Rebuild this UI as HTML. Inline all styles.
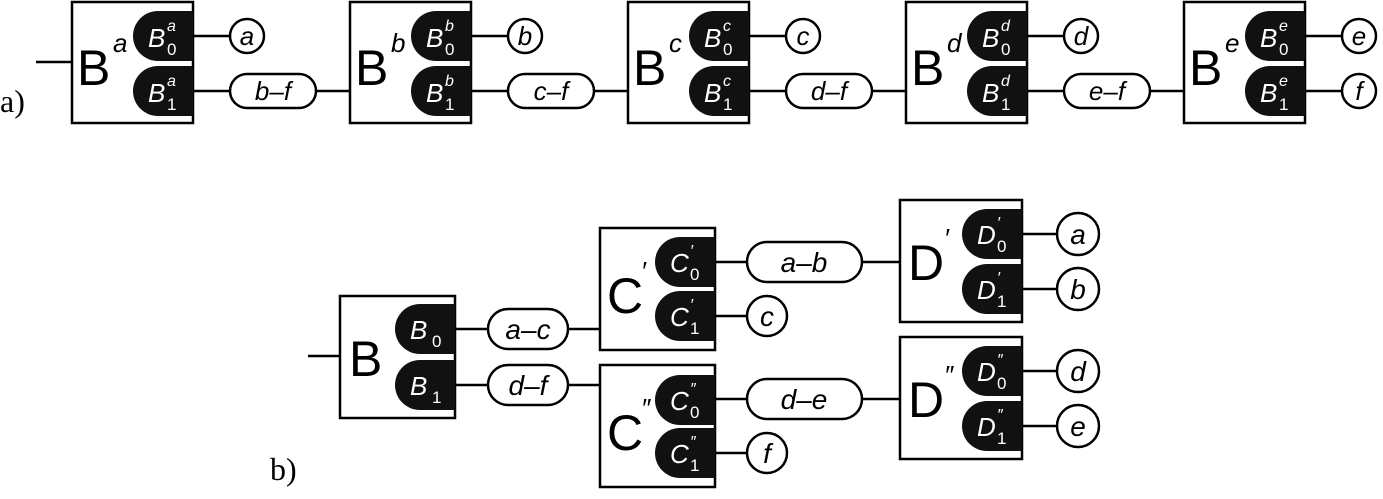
<!DOCTYPE html>
<html><head><meta charset="utf-8"><style>
html,body{margin:0;padding:0;background:#fff;width:1383px;height:499px;overflow:hidden}
svg{display:block}
text{font-family:"Liberation Sans",sans-serif}
.big{font-size:50px}
.sup{font-size:26px;font-style:italic}
.pl{fill:#fff;font-style:italic;font-size:26px}
.ps{fill:#fff;font-size:17px}
.pi{fill:#fff;font-size:16px;font-style:italic}
.c{font-style:italic;font-size:26px;text-anchor:middle}
.lab{font-family:"Liberation Serif",serif;font-size:32px}
</style></head><body>
<svg width="1383" height="499" viewBox="0 0 1383 499" xmlns="http://www.w3.org/2000/svg" stroke-linecap="butt">
<defs>
<path id="pill" d="M0,0 H-35 A25,25 0 0 0 -35,50 H0 Z" fill="#111"/>
</defs>
<g stroke="#000" stroke-width="2.5" fill="#fff">
<!-- row a lines -->
<line x1="36" y1="62" x2="72" y2="62"/>
</g>

<!-- ROW A -->
<g id="rowa">
<!-- block template repeated -->
<g transform="translate(193,2)">
 <rect x="-121" y="0" width="121" height="121" fill="#fff" stroke="#000" stroke-width="2.5"/>
 <use href="#pill" y="9"/><use href="#pill" y="64"/>
 <text class="big" x="-116" y="83">B</text><text class="sup" x="-80" y="50">a</text>
 <text class="pl" x="-45" y="45">B</text><text class="pi" x="-26" y="29">a</text><text class="ps" x="-26" y="53">0</text>
 <text class="pl" x="-45" y="100">B</text><text class="pi" x="-26" y="84">a</text><text class="ps" x="-26" y="108">1</text>
 <g stroke="#000" stroke-width="2.5" fill="#fff">
  <line x1="0" y1="34" x2="37" y2="34"/><circle cx="54" cy="34" r="17"/>
  <line x1="0" y1="89" x2="37" y2="89"/><rect x="37" y="72" width="86" height="34" rx="17"/>
  <line x1="123" y1="89" x2="157" y2="89"/>
 </g>
 <text class="c" x="54" y="43">a</text><text class="c" x="80" y="98">b–f</text>
</g>
<g transform="translate(471,2)">
 <rect x="-121" y="0" width="121" height="121" fill="#fff" stroke="#000" stroke-width="2.5"/>
 <use href="#pill" y="9"/><use href="#pill" y="64"/>
 <text class="big" x="-116" y="83">B</text><text class="sup" x="-80" y="50">b</text>
 <text class="pl" x="-45" y="45">B</text><text class="pi" x="-26" y="29">b</text><text class="ps" x="-26" y="53">0</text>
 <text class="pl" x="-45" y="100">B</text><text class="pi" x="-26" y="84">b</text><text class="ps" x="-26" y="108">1</text>
 <g stroke="#000" stroke-width="2.5" fill="#fff">
  <line x1="0" y1="34" x2="37" y2="34"/><circle cx="54" cy="34" r="17"/>
  <line x1="0" y1="89" x2="37" y2="89"/><rect x="37" y="72" width="86" height="34" rx="17"/>
  <line x1="123" y1="89" x2="157" y2="89"/>
 </g>
 <text class="c" x="54" y="43">b</text><text class="c" x="80" y="98">c–f</text>
</g>
<g transform="translate(749,2)">
 <rect x="-121" y="0" width="121" height="121" fill="#fff" stroke="#000" stroke-width="2.5"/>
 <use href="#pill" y="9"/><use href="#pill" y="64"/>
 <text class="big" x="-116" y="83">B</text><text class="sup" x="-80" y="50">c</text>
 <text class="pl" x="-45" y="45">B</text><text class="pi" x="-26" y="29">c</text><text class="ps" x="-26" y="53">0</text>
 <text class="pl" x="-45" y="100">B</text><text class="pi" x="-26" y="84">c</text><text class="ps" x="-26" y="108">1</text>
 <g stroke="#000" stroke-width="2.5" fill="#fff">
  <line x1="0" y1="34" x2="37" y2="34"/><circle cx="54" cy="34" r="17"/>
  <line x1="0" y1="89" x2="37" y2="89"/><rect x="37" y="72" width="86" height="34" rx="17"/>
  <line x1="123" y1="89" x2="157" y2="89"/>
 </g>
 <text class="c" x="54" y="43">c</text><text class="c" x="80" y="98">d–f</text>
</g>
<g transform="translate(1027,2)">
 <rect x="-121" y="0" width="121" height="121" fill="#fff" stroke="#000" stroke-width="2.5"/>
 <use href="#pill" y="9"/><use href="#pill" y="64"/>
 <text class="big" x="-116" y="83">B</text><text class="sup" x="-80" y="50">d</text>
 <text class="pl" x="-45" y="45">B</text><text class="pi" x="-26" y="29">d</text><text class="ps" x="-26" y="53">0</text>
 <text class="pl" x="-45" y="100">B</text><text class="pi" x="-26" y="84">d</text><text class="ps" x="-26" y="108">1</text>
 <g stroke="#000" stroke-width="2.5" fill="#fff">
  <line x1="0" y1="34" x2="37" y2="34"/><circle cx="54" cy="34" r="17"/>
  <line x1="0" y1="89" x2="37" y2="89"/><rect x="37" y="72" width="86" height="34" rx="17"/>
  <line x1="123" y1="89" x2="157" y2="89"/>
 </g>
 <text class="c" x="54" y="43">d</text><text class="c" x="80" y="98">e–f</text>
</g>
<g transform="translate(1305,2)">
 <rect x="-121" y="0" width="121" height="121" fill="#fff" stroke="#000" stroke-width="2.5"/>
 <use href="#pill" y="9"/><use href="#pill" y="64"/>
 <text class="big" x="-116" y="83">B</text><text class="sup" x="-80" y="50">e</text>
 <text class="pl" x="-45" y="45">B</text><text class="pi" x="-26" y="29">e</text><text class="ps" x="-26" y="53">0</text>
 <text class="pl" x="-45" y="100">B</text><text class="pi" x="-26" y="84">e</text><text class="ps" x="-26" y="108">1</text>
 <g stroke="#000" stroke-width="2.5" fill="#fff">
  <line x1="0" y1="34" x2="37" y2="34"/><circle cx="54" cy="34" r="17"/>
  <line x1="0" y1="89" x2="37" y2="89"/><circle cx="54" cy="89" r="17"/>
 </g>
 <text class="c" x="54" y="43">e</text><text class="c" x="54" y="98">f</text>
</g>
</g>
<text class="lab" x="0" y="112">a)</text>

<!-- ROW B -->
<g stroke="#000" stroke-width="2.5" fill="#fff">
 <line x1="308" y1="356" x2="340" y2="356"/>
 <line x1="455" y1="329" x2="488" y2="329"/><rect x="488" y="309" width="80" height="40" rx="20"/><line x1="568" y1="329" x2="600" y2="329"/>
 <line x1="455" y1="385" x2="488" y2="385"/><rect x="488" y="365" width="80" height="40" rx="20"/><line x1="568" y1="385" x2="600" y2="385"/>
 <line x1="715" y1="262" x2="747" y2="262"/><rect x="747" y="242" width="115" height="40" rx="20"/><line x1="862" y1="262" x2="900" y2="262"/>
 <line x1="715" y1="316" x2="747" y2="316"/><circle cx="767" cy="316" r="20"/>
 <line x1="715" y1="399" x2="747" y2="399"/><rect x="747" y="379" width="115" height="40" rx="20"/><line x1="862" y1="399" x2="900" y2="399"/>
 <line x1="715" y1="453" x2="747" y2="453"/><circle cx="767" cy="453" r="20"/>
 <line x1="1022" y1="234" x2="1057" y2="234"/><circle cx="1078" cy="234" r="21"/>
 <line x1="1022" y1="289" x2="1057" y2="289"/><circle cx="1078" cy="289" r="21"/>
 <line x1="1022" y1="371" x2="1057" y2="371"/><circle cx="1078" cy="371" r="21"/>
 <line x1="1022" y1="426" x2="1057" y2="426"/><circle cx="1078" cy="426" r="21"/>
</g>
<g style="font-size:28px">
<text class="c" x="528" y="339" style="font-size:28px">a–c</text>
<text class="c" x="528" y="395" style="font-size:28px">d–f</text>
<text class="c" x="804" y="272" style="font-size:28px">a–b</text>
<text class="c" x="804" y="409" style="font-size:28px">d–e</text>
<text class="c" x="767" y="326" style="font-size:28px">c</text>
<text class="c" x="767" y="463" style="font-size:28px">f</text>
<text class="c" x="1078" y="244" style="font-size:28px">a</text>
<text class="c" x="1078" y="299" style="font-size:28px">b</text>
<text class="c" x="1078" y="381" style="font-size:28px">d</text>
<text class="c" x="1078" y="436" style="font-size:28px">e</text>
</g>

<g transform="translate(455,296)">
 <rect x="-115" y="0" width="115" height="122" fill="#fff" stroke="#000" stroke-width="2.5"/>
 <use href="#pill" y="8"/><use href="#pill" y="64"/>
 <text class="big" x="-106" y="80">B</text>
 <text class="pl" x="-45" y="43">B</text><text class="ps" x="-23" y="51">0</text>
 <text class="pl" x="-45" y="99">B</text><text class="ps" x="-23" y="107">1</text>
</g>
<g transform="translate(715,228)">
 <rect x="-115" y="0" width="115" height="122" fill="#fff" stroke="#000" stroke-width="2.5"/>
 <use href="#pill" y="9"/><use href="#pill" y="63"/>
 <text class="big" x="-108" y="85">C</text><text class="sup" x="-74" y="52">′</text>
 <text class="pl" x="-45" y="44">C</text><text class="pi" x="-25" y="28">′</text><text class="ps" x="-25" y="52">0</text>
 <text class="pl" x="-45" y="98">C</text><text class="pi" x="-25" y="82">′</text><text class="ps" x="-25" y="106">1</text>
</g>
<g transform="translate(715,365)">
 <rect x="-115" y="0" width="115" height="122" fill="#fff" stroke="#000" stroke-width="2.5"/>
 <use href="#pill" y="10"/><use href="#pill" y="63"/>
 <text class="big" x="-108" y="85">C</text><text class="sup" x="-74" y="52">″</text>
 <text class="pl" x="-45" y="45">C</text><text class="pi" x="-25" y="29">″</text><text class="ps" x="-25" y="53">0</text>
 <text class="pl" x="-45" y="98">C</text><text class="pi" x="-25" y="82">″</text><text class="ps" x="-25" y="106">1</text>
</g>
<g transform="translate(1022,200)">
 <rect x="-122" y="0" width="122" height="122" fill="#fff" stroke="#000" stroke-width="2.5"/>
 <use href="#pill" y="9"/><use href="#pill" y="64"/>
 <text class="big" x="-114" y="80">D</text><text class="sup" x="-78" y="47">′</text>
 <text class="pl" x="-45" y="44">D</text><text class="pi" x="-25" y="28">′</text><text class="ps" x="-25" y="52">0</text>
 <text class="pl" x="-45" y="99">D</text><text class="pi" x="-25" y="83">′</text><text class="ps" x="-25" y="107">1</text>
</g>
<g transform="translate(1022,337)">
 <rect x="-122" y="0" width="122" height="122" fill="#fff" stroke="#000" stroke-width="2.5"/>
 <use href="#pill" y="9"/><use href="#pill" y="64"/>
 <text class="big" x="-114" y="80">D</text><text class="sup" x="-78" y="47">″</text>
 <text class="pl" x="-45" y="44">D</text><text class="pi" x="-25" y="28">″</text><text class="ps" x="-25" y="52">0</text>
 <text class="pl" x="-45" y="99">D</text><text class="pi" x="-25" y="83">″</text><text class="ps" x="-25" y="107">1</text>
</g>
<text class="lab" x="270" y="480">b)</text>
</svg>
</body></html>
